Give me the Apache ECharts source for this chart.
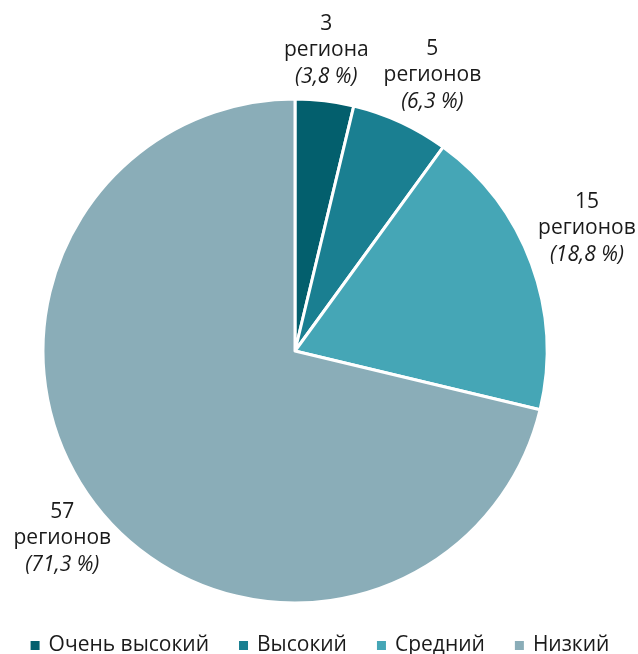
<!DOCTYPE html>
<html>
<head>
<meta charset="utf-8">
<script src="https://cdn.jsdelivr.net/npm/echarts@6/dist/echarts.min.js"></script>
<style>
html,body{margin:0;padding:0;background:#fff;}
#chart{width:638px;height:654px;}
</style>
</head>
<body>
<div id="chart"></div>
<script>
// Regions grouped by level
const categories = ['Очень высокий', 'Высокий', 'Средний', 'Низкий'];
const regionCounts = [3, 5, 15, 57];
const shares = ['3,8', '6,3', '18,8', '71,3'];
const regionWords = ['региона', 'регионов', 'регионов', 'регионов'];
const colors = ['#035f6d', '#1a7f91', '#45a6b6', '#8aadb8'];

const FONT = '"Open Sans", sans-serif';
const FONT_SIZE = 21;
// small per-label nudges around the label ring
const labelNudge = [[-5, 6], [8, 5], [2, -16], [10, -4]];

const sliceData = categories.map((name, i) => ({
  name,
  value: regionCounts[i],
  itemStyle: { color: colors[i] }
}));

const labelData = categories.map((name, i) => ({
  name,
  value: regionCounts[i],
  label: {
    offset: labelNudge[i],
    formatter: '{n|' + regionCounts[i] + '}\n{n|' + regionWords[i] + '}\n{p|(' + shares[i] + ' %)}'
  }
}));

const chart = echarts.init(document.getElementById('chart'), null, { renderer: 'canvas' });
chart.setOption({
  animation: false,
  backgroundColor: '#ffffff',
  legend: {
    data: categories,
    bottom: -2,
    left: 'center',
    padding: [5, 5, 0, 5],
    icon: 'rect',
    itemWidth: 11,
    itemHeight: 11,
    itemGap: 28,
    textStyle: { fontFamily: FONT, fontSize: FONT_SIZE, color: '#1a1a1a', padding: [0, 0, 0, 3] }
  },
  series: [
    {
      type: 'pie',
      center: [295, 351],
      radius: [0, 252],
      startAngle: 90,
      clockwise: true,
      label: { show: false },
      labelLine: { show: false },
      itemStyle: { borderColor: '#ffffff', borderWidth: 3 },
      emphasis: { disabled: true },
      data: sliceData
    },
    {
      // transparent ring carrying the value labels around the pie
      type: 'pie',
      center: [295, 351],
      radius: [292, 320],
      startAngle: 90,
      clockwise: true,
      silent: true,
      legendHoverLink: false,
      itemStyle: { color: 'rgba(0,0,0,0)' },
      labelLine: { show: false },
      label: {
        show: true,
        position: 'inside',
        align: 'center',
        rich: {
          n: { fontFamily: FONT, fontSize: FONT_SIZE, lineHeight: 26.5, color: '#1a1a1a', align: 'center' },
          p: { fontFamily: FONT, fontSize: FONT_SIZE, lineHeight: 26.5, color: '#1a1a1a', fontStyle: 'italic', align: 'center' }
        }
      },
      emphasis: { disabled: true },
      data: labelData
    }
  ]
});
</script>
</body>
</html>
